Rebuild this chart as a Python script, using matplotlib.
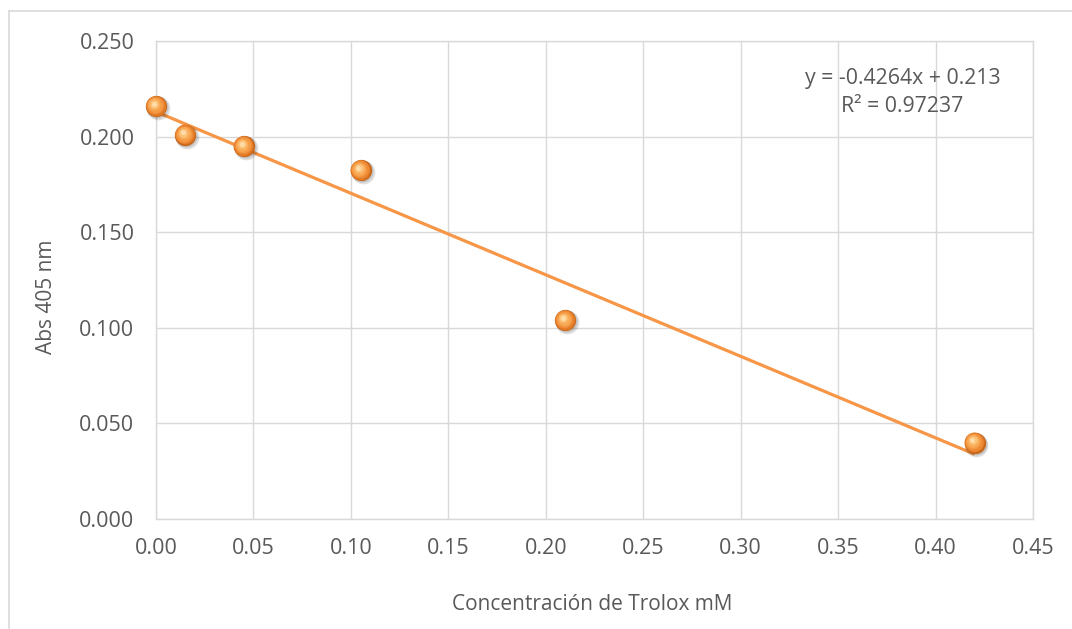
import numpy as np
import matplotlib.pyplot as plt
from matplotlib.lines import Line2D

# === DATA ===
conc_mM = [0.0, 0.015, 0.045, 0.105, 0.21, 0.42]
abs_405 = [0.216, 0.201, 0.195, 0.1825, 0.104, 0.040]
slope = -0.4264
intercept = 0.213
r2_label = "0.97237"
x_ticks = [0.00, 0.05, 0.10, 0.15, 0.20, 0.25, 0.30, 0.35, 0.40, 0.45]
y_ticks = [0.000, 0.050, 0.100, 0.150, 0.200, 0.250]

# === STYLE ===
ORANGE = "#F79646"
TEXT = "#595959"
GRID = "#D9D9D9"
plt.rcParams["font.family"] = ["Open Sans", "DejaVu Sans"]

W, H = 1072, 629
fig = plt.figure(figsize=(W / 100, H / 100), dpi=100)
ax = fig.add_axes([156 / W, 1 - 519 / H, (1033 - 156) / W, (519 - 41) / H])

ax.set_xlim(0, 0.45)
ax.set_ylim(0, 0.25)
ax.set_xticks(x_ticks)
ax.set_yticks(y_ticks)
ax.set_xticklabels([f"{v:.2f}" for v in x_ticks])
ax.set_yticklabels([f"{v:.3f}" for v in y_ticks])
ax.tick_params(length=0, labelsize=15.5, colors=TEXT)
ax.tick_params(axis="y", pad=15.5)
ax.tick_params(axis="x", pad=14)
ax.grid(True, color=GRID, linewidth=1.0)
ax.set_axisbelow(True)
for s in ax.spines.values():
    s.set_color(GRID)
    s.set_linewidth(1.0)

# trendline
xs = np.array([min(conc_mM), max(conc_mM)])
ax.plot(xs, slope * xs + intercept, color=ORANGE, linewidth=2.3, zorder=3,
        solid_capstyle="butt")

# sphere-like markers: soft shadow, body, gradient highlight
x = np.array(conc_mM)
y = np.array(abs_405)
ax.scatter(x + 0.0010, y - 0.0011, s=290, color="#000000", alpha=0.12,
           linewidths=0, zorder=4, clip_on=False)
ax.scatter(x + 0.0006, y - 0.0007, s=255, color="#000000", alpha=0.12,
           linewidths=0, zorder=4, clip_on=False)
layers = [(235, "#C8661A", 0, 0), (205, "#DE7A26", -0.0002, 0.0002),
          (168, "#EE8A35", -0.0004, 0.0004), (122, "#F59A44", -0.0006, 0.0006),
          (78, "#F9AC58", -0.0008, 0.0008), (38, "#FCC27A", -0.0010, 0.0011),
          (13, "#FEDCA8", -0.0011, 0.0013)]
for i, (sz, col, dx, dy) in enumerate(layers):
    ax.scatter(x + dx, y + dy, s=sz, color=col, linewidths=0, zorder=5 + i,
               clip_on=False)

ax.text(0.851, 0.892,
        f"y = {slope:.4f}x + {intercept:.3f}\nR² = {r2_label}",
        transform=ax.transAxes, ha="center", va="center", fontsize=15.3,
        color=TEXT, linespacing=1.45, zorder=20)

fig.text(46 / W, 1 - 297 / H, "Abs 405 nm", rotation=90, ha="center",
         va="center", fontsize=15, color=TEXT)
fig.text(592 / W, 1 - 605 / H, "Concentración de Trolox mM", ha="center",
         va="center", fontsize=15, color=TEXT)

# chart frame (top and left edges visible)
fig.add_artist(Line2D([9 / W, 1], [1 - 11 / H, 1 - 11 / H],
                      transform=fig.transFigure, color=GRID, linewidth=1.2))
fig.add_artist(Line2D([9 / W, 9 / W], [0, 1 - 11 / H],
                      transform=fig.transFigure, color=GRID, linewidth=1.2))

fig.savefig("out.png", dpi=100, facecolor="white")
